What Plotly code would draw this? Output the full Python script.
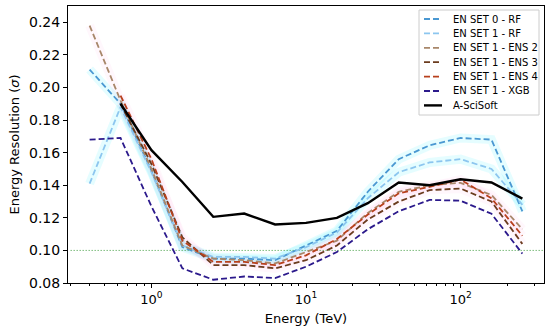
import plotly.graph_objects as go

energy = [0.398, 0.631, 1.0, 1.585, 2.512, 3.981, 6.31, 10.0, 15.85, 25.12, 39.81, 63.1, 100.0, 158.5, 251.2]

set0_rf = [0.211, 0.190, 0.149, 0.102, 0.095, 0.095, 0.094, 0.103, 0.112, 0.136, 0.156, 0.1645, 0.169, 0.168, 0.124]
set1_rf = [0.141, 0.188, 0.148, 0.103, 0.096, 0.096, 0.095, 0.102, 0.111, 0.132, 0.148, 0.154, 0.156, 0.150, 0.128]
set1_ens2 = [0.238, 0.192, 0.150, 0.103, 0.095, 0.094, 0.092, 0.099, 0.106, 0.123, 0.136, 0.140, 0.1415, 0.134, 0.113]
set1_ens3 = [None, 0.190, 0.153, 0.108, 0.091, 0.091, 0.089, 0.094, 0.103, 0.119, 0.130, 0.137, 0.138, 0.130, 0.104]
set1_ens4 = [None, 0.195, 0.156, 0.106, 0.093, 0.093, 0.091, 0.097, 0.107, 0.122, 0.135, 0.139, 0.1435, 0.132, 0.109]
set1_xgb = [0.168, 0.169, 0.127, 0.089, 0.082, 0.084, 0.083, 0.090, 0.099, 0.113, 0.124, 0.131, 0.1305, 0.1225, 0.098]
asci_energy = energy[1:]
asci_soft = [0.190, 0.1615, 0.142, 0.1206, 0.1226, 0.1159, 0.1169, 0.120, 0.129, 0.1417, 0.140, 0.1437, 0.1417, 0.1318]

ref_level = 0.10

series = [
    ("EN SET 0 - RF", energy, set0_rf, "#4a98d2", "rgba(0,235,255,0.10)"),
    ("EN SET 1 - RF", energy, set1_rf, "#8cc6ef", "rgba(0,235,255,0.10)"),
    ("EN SET 1 - ENS 2", energy, set1_ens2, "#a8876a", "rgba(255,90,200,0.05)"),
    ("EN SET 1 - ENS 3", energy, set1_ens3, "#6b3b1e", "rgba(255,90,200,0.05)"),
    ("EN SET 1 - ENS 4", energy, set1_ens4, "#b8401c", "rgba(255,90,200,0.05)"),
    ("EN SET 1 - XGB", energy, set1_xgb, "#2c1a8c", None),
]
DASH = "6px,3px"

fig = go.Figure()

# faint glow bands under the dashed lines
for name, x, y, col, glow in series:
    if glow:
        fig.add_trace(go.Scatter(x=x, y=y, mode="lines", line=dict(color=glow, width=9),
                                 showlegend=False, hoverinfo="skip"))

fig.add_trace(go.Scatter(x=[0.3, 346], y=[ref_level, ref_level], mode="lines",
                         line=dict(color="#3a9a3a", width=1, dash="1px,2px"),
                         showlegend=False, hoverinfo="skip"))

for name, x, y, col, glow in series:
    fig.add_trace(go.Scatter(x=x, y=y, mode="lines", name=name, showlegend=False,
                             line=dict(color=col, width=1.8, dash=DASH)))

fig.add_trace(go.Scatter(x=asci_energy, y=asci_soft, mode="lines", name="A-SciSoft",
                         showlegend=False, line=dict(color="black", width=2.4)))

# legend drawn in plot-area (paper) coordinates, matplotlib style
PL, PR, PT, PB = 68, 544, 6, 283
def px(xp):
    return (xp - PL) / (PR - PL)
def py(yp):
    return 1 - (yp - PT) / (PB - PT)

shapes = [dict(type="rect", xref="paper", yref="paper",
               x0=px(419), x1=px(539), y0=py(115), y1=py(10),
               line=dict(color="#cccccc", width=1), fillcolor="rgba(255,255,255,0.85)", layer="above")]
annotations = []
legend_items = [(s[0], s[3], DASH, 1.8) for s in series] + [("A-SciSoft", "black", "solid", 2.4)]
for k, (label, col, dash, w) in enumerate(legend_items):
    yrow = 19 + k * 14.4
    shapes.append(dict(type="line", xref="paper", yref="paper",
                       x0=px(424), x1=px(442), y0=py(yrow), y1=py(yrow),
                       line=dict(color=col, width=w, dash=dash), layer="above"))
    annotations.append(dict(text=label, xref="paper", yref="paper", x=px(451), y=py(yrow),
                            xanchor="left", yanchor="middle", showarrow=False,
                            font=dict(size=10, color="black", family="DejaVu Sans")))

minor_vals = [0.3, 0.4, 0.5, 0.6, 0.7, 0.8, 0.9, 2, 3, 4, 5, 6, 7, 8, 9,
              20, 30, 40, 50, 60, 70, 80, 90, 200, 300]

fig.update_layout(
    width=550, height=333,
    margin=dict(l=PL, r=550 - PR, t=PT, b=333 - PB),
    paper_bgcolor="white", plot_bgcolor="white",
    font=dict(family="DejaVu Sans", size=13, color="black"),
    showlegend=False,
    shapes=shapes, annotations=annotations,
    xaxis=dict(type="log", range=[-0.54, 2.54], showgrid=False, zeroline=False,
               showline=True, mirror=True, linecolor="black", linewidth=1,
               ticks="outside", ticklen=4, tickcolor="black",
               tickvals=[1, 10, 100], ticktext=["10<sup>0</sup>", "10<sup>1</sup>", "10<sup>2</sup>"],
               tickfont=dict(size=13),
               minor=dict(tickvals=minor_vals, ticks="outside", ticklen=2, tickcolor="black"),
               title=dict(text="Energy (TeV)", font=dict(size=13), standoff=8)),
    yaxis=dict(range=[0.08, 0.25], showgrid=False, zeroline=False,
               showline=True, mirror=True, linecolor="black", linewidth=1,
               ticks="outside", ticklen=4, tickcolor="black",
               tickvals=[0.08, 0.10, 0.12, 0.14, 0.16, 0.18, 0.20, 0.22, 0.24],
               tickformat=".2f", tickfont=dict(size=14),
               title=dict(text="Energy Resolution (<i>σ</i>)", font=dict(size=13), standoff=6)),
)

fig.write_html("out.html", config={"displayModeBar": False},
               post_script="document.body.style.margin='0px';")
